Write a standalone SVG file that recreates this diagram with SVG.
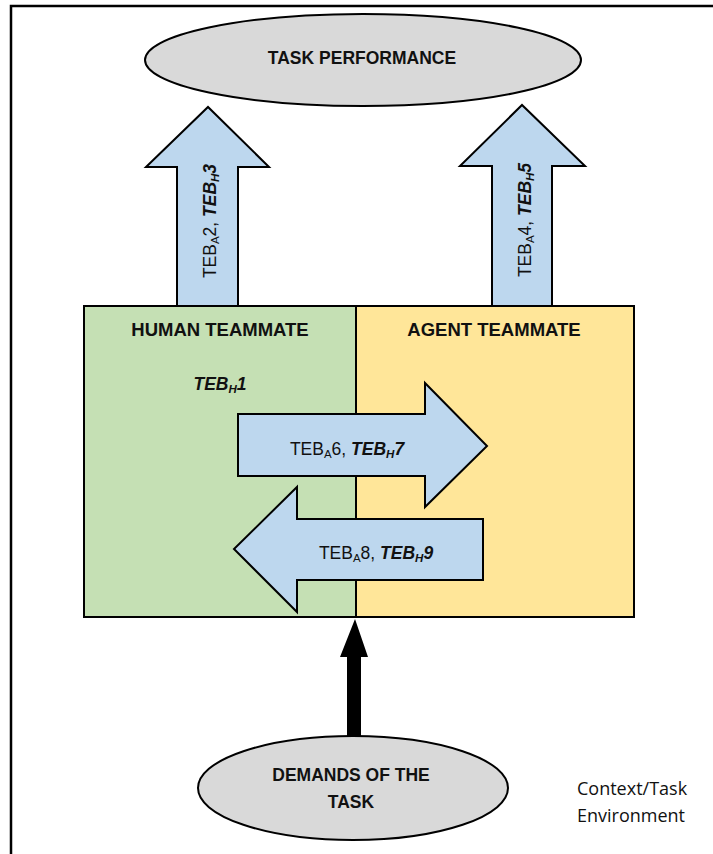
<svg xmlns="http://www.w3.org/2000/svg" width="713" height="854" viewBox="0 0 713 854">
  <style>
    .frame { fill: none; stroke: #000; stroke-width: 2.5; }
    .oval { fill: #D9D9D9; stroke: #000; stroke-width: 2; }
    .blk { stroke: #000; stroke-width: 2; }
    .fat { fill: #BDD7EE; stroke: #000; stroke-width: 2; stroke-linejoin: miter; }
    .lbl { font-family: "Liberation Sans", Arial, sans-serif; fill: #111; }
    .hd { font-weight: bold; font-size: 17.5px; text-anchor: middle; }
    .hd2 { font-weight: bold; font-size: 18.5px; text-anchor: middle; }
    .teb { font-size: 17.5px; text-anchor: middle; }
    .bi { font-weight: bold; font-style: italic; }
    .ctx { font-family: "Open Sans", "Liberation Sans", sans-serif; font-size: 18px; fill: #111; }
  </style>

  <!-- outer environment frame -->
  <path class="frame" d="M11,854 V6 H713"/>

  <g id="task-performance">
    <ellipse class="oval" cx="363" cy="60" rx="218" ry="46"/>
    <text class="lbl hd" x="362" y="64">TASK PERFORMANCE</text>
  </g>

  <g id="human-teammate">
    <rect class="blk" x="84" y="306" width="272" height="311" fill="#C5E0B4"/>
    <text class="lbl hd2" x="220" y="336">HUMAN TEAMMATE</text>
    <text class="lbl teb bi" x="220" y="390">TEB<tspan font-size="11.5" dy="2.5">H</tspan><tspan dy="-2.5">1</tspan></text>
  </g>

  <g id="agent-teammate">
    <rect class="blk" x="356" y="306" width="278" height="311" fill="#FFE699"/>
    <text class="lbl hd2" x="494" y="336">AGENT TEAMMATE</text>
  </g>

  <g id="connectors">
    <!-- human -> task performance -->
    <g id="arrow-teb2-3">
      <polygon class="fat" points="177,306 177,167 146,167 208,107 269,167 238,167 238,306"/>
      <text class="lbl teb" transform="translate(216,221) rotate(-90)">TEB<tspan font-size="11.5" dy="2.5">A</tspan><tspan dy="-2.5">2, </tspan><tspan class="bi">TEB<tspan font-size="11.5" dy="2.5">H</tspan><tspan dy="-2.5">3</tspan></tspan></text>
    </g>
    <!-- agent -> task performance -->
    <g id="arrow-teb4-5">
      <polygon class="fat" points="492,306 492,166 460,166 522,105 585,166 552,166 552,306"/>
      <text class="lbl teb" transform="translate(531,220) rotate(-90)">TEB<tspan font-size="11.5" dy="2.5">A</tspan><tspan dy="-2.5">4, </tspan><tspan class="bi">TEB<tspan font-size="11.5" dy="2.5">H</tspan><tspan dy="-2.5">5</tspan></tspan></text>
    </g>
    <!-- human -> agent -->
    <g id="arrow-teb6-7">
      <polygon class="fat" points="238,414 425,414 425,383 487,446 425,507 425,476 238,476"/>
      <text class="lbl teb" x="347" y="455">TEB<tspan font-size="11.5" dy="2.5">A</tspan><tspan dy="-2.5">6, </tspan><tspan class="bi">TEB<tspan font-size="11.5" dy="2.5">H</tspan><tspan dy="-2.5">7</tspan></tspan></text>
    </g>
    <!-- agent -> human -->
    <g id="arrow-teb8-9">
      <polygon class="fat" points="483,519 297,519 297,487 234,549 297,612 297,580 483,580"/>
      <text class="lbl teb" x="376" y="559">TEB<tspan font-size="11.5" dy="2.5">A</tspan><tspan dy="-2.5">8, </tspan><tspan class="bi">TEB<tspan font-size="11.5" dy="2.5">H</tspan><tspan dy="-2.5">9</tspan></tspan></text>
    </g>
    <!-- task demands -> teammates -->
    <polygon id="arrow-demands" fill="#000" points="347,736 347,657 340,657 355,619 368,657 361,657 361,736"/>
  </g>

  <g id="task-demands">
    <ellipse class="oval" cx="353" cy="788" rx="155" ry="52"/>
    <text class="lbl hd" x="351" y="781">DEMANDS OF THE</text>
    <text class="lbl hd" x="351" y="808">TASK</text>
  </g>

  <g id="context-label">
    <text class="ctx" x="577" y="795">Context/Task</text>
    <text class="ctx" x="577" y="822">Environment</text>
  </g>
</svg>
